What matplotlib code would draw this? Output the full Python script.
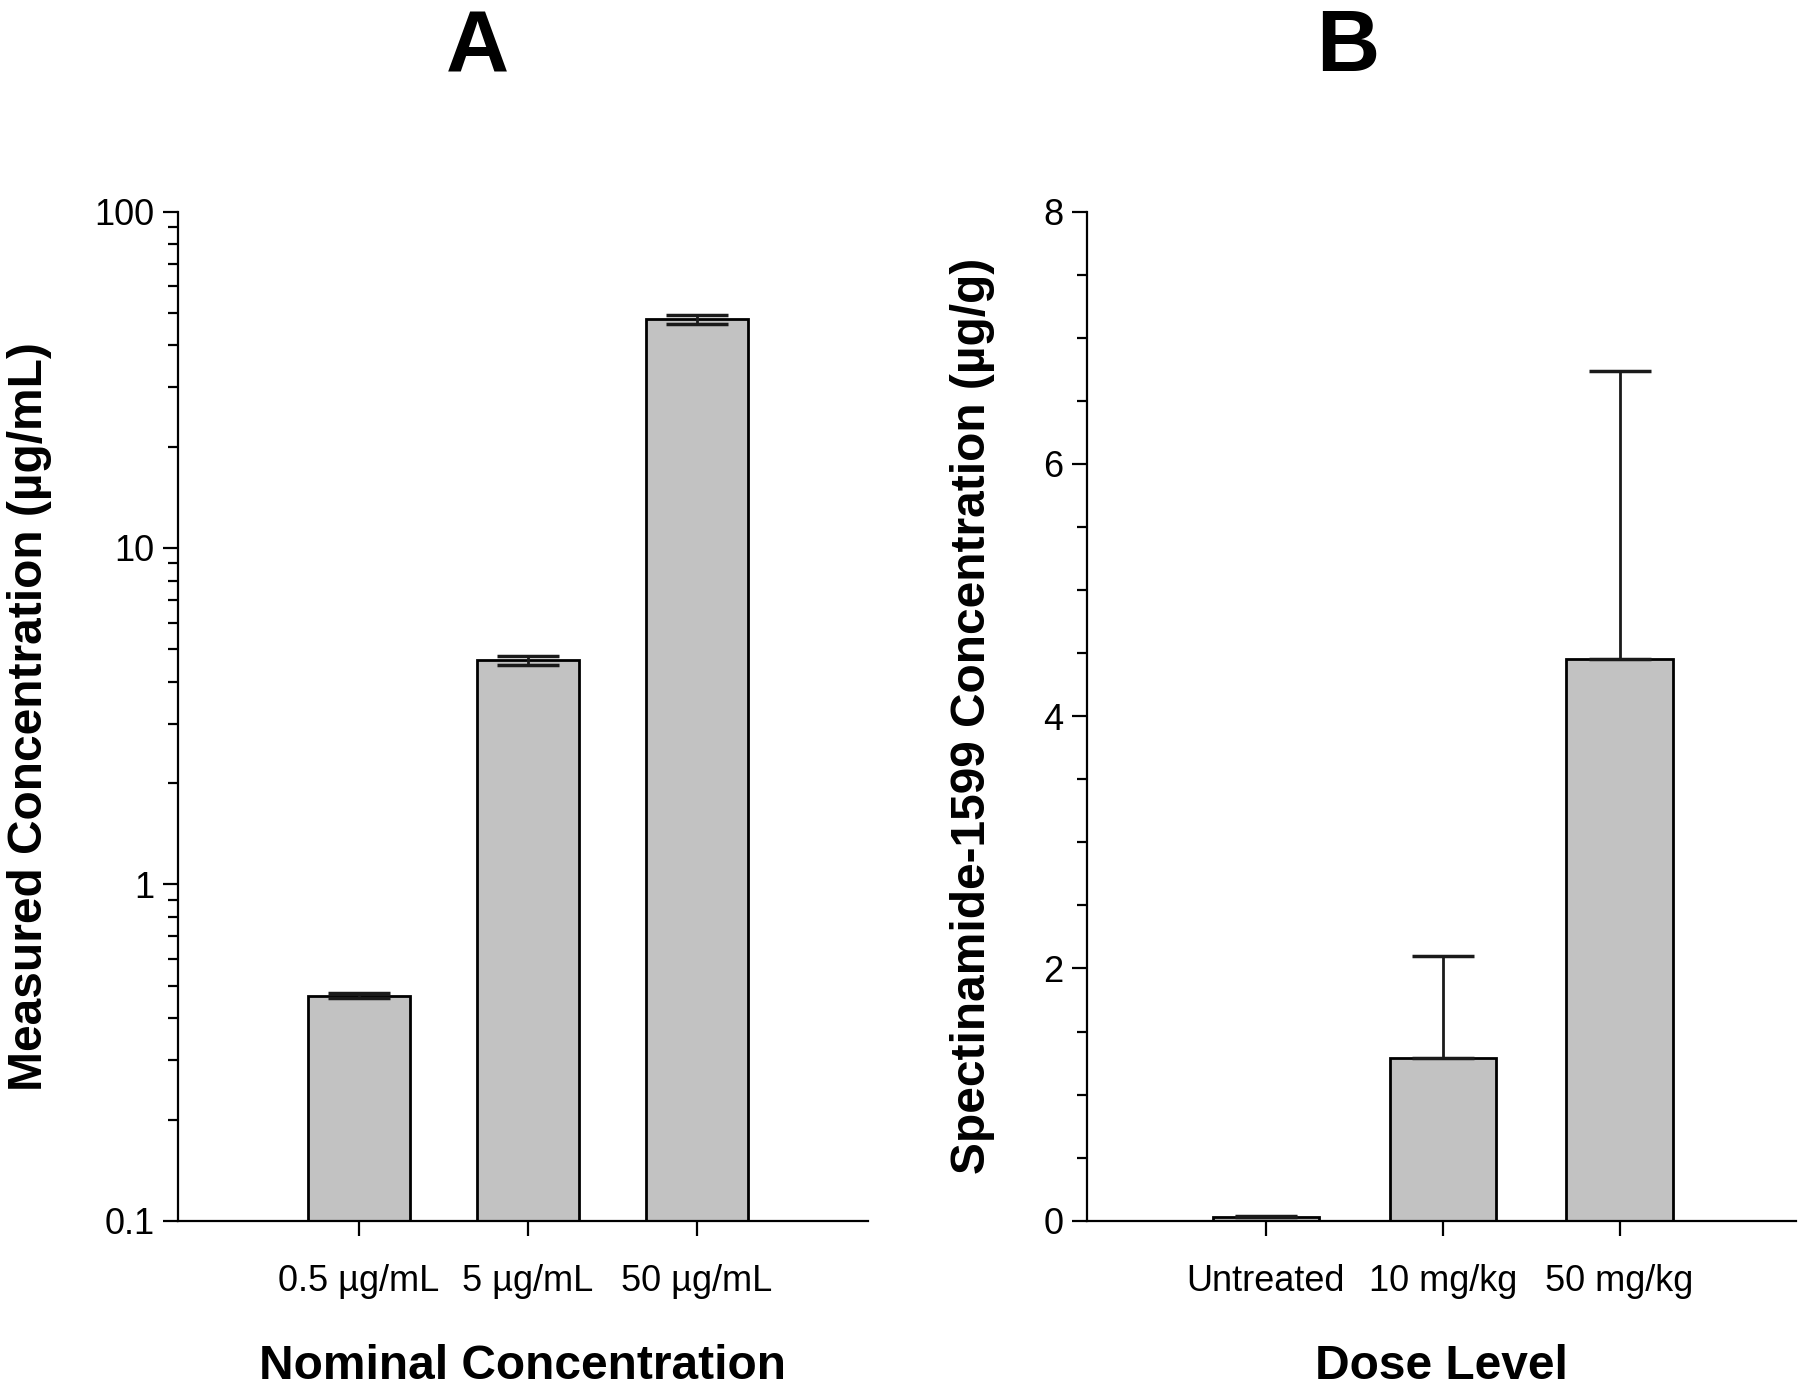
import matplotlib.pyplot as plt
import numpy as np
from matplotlib.ticker import LogLocator, MultipleLocator, NullFormatter

# Data
# ------------------------------------------------------------------------------

a_labels = ['0.5 µg/mL', '5 µg/mL', '50 µg/mL']
a_vals = [0.467, 4.63, 47.8]
a_err = [0.008, 0.15, 1.6]

b_labels = ['Untreated', '10 mg/kg', '50 mg/kg']
b_vals = [0.03, 1.29, 4.45]
b_err = [0.01, 0.81, 2.29]

# Plot
# ------------------------------------------------------------------------------

plt.rcParams['font.family'] = ['Liberation Sans', 'DejaVu Sans']

bar_c = '#c2c2c2'
ekw = dict(elinewidth=2, capthick=2.5, ecolor='#1a1a1a')

fig = plt.figure(figsize=(18, 13.92), dpi=100)
ax1 = fig.add_axes([0.099, 0.123, 0.383, 0.725])
ax2 = fig.add_axes([0.604, 0.123, 0.394, 0.725])

x = np.arange(3)

ax1.bar(x, a_vals, width=0.6, color=bar_c, edgecolor='black', linewidth=2,
        yerr=a_err, capsize=22, error_kw=ekw)
ax1.set_yscale('log')
ax1.set_ylim(0.1, 100)
ax1.set_xlim(-1.07, 3.01)
ax1.set_yticks([0.1, 1, 10, 100])
ax1.set_yticklabels(['0.1', '1', '10', '100'])
ax1.yaxis.set_minor_locator(LogLocator(base=10, subs=np.arange(2, 10)))
ax1.yaxis.set_minor_formatter(NullFormatter())
ax1.set_ylabel('Measured Concentration (µg/mL)', fontsize=34.5,
               fontweight='bold')
ax1.set_xlabel('Nominal Concentration', fontsize=34.5, fontweight='bold')
ax1.yaxis.set_label_coords(-0.216, 0.5)
ax1.xaxis.set_label_coords(0.5, -0.144)

b_low = [0 for _ in b_err]
ax2.bar(x, b_vals, width=0.6, color=bar_c, edgecolor='black', linewidth=2,
        yerr=[b_low, b_err], capsize=22, error_kw=ekw)
ax2.set_ylim(0, 8)
ax2.set_xlim(-1.01, 3.0)
ax2.yaxis.set_major_locator(MultipleLocator(2))
ax2.yaxis.set_minor_locator(MultipleLocator(0.5))
ax2.set_ylabel('Spectinamide-1599 Concentration (µg/g)', fontsize=34.5,
               fontweight='bold')
ax2.set_xlabel('Dose Level', fontsize=34.5, fontweight='bold')
ax2.yaxis.set_label_coords(-0.162, 0.5)
ax2.xaxis.set_label_coords(0.5, -0.144)

for ax, labels in [(ax1, a_labels), (ax2, b_labels)]:
    ax.set_xticks(x)
    ax.set_xticklabels(labels)
    ax.xaxis.label.set_va('center')
    ax.yaxis.label.set_va('center')
    ax.spines['top'].set_visible(False)
    ax.spines['right'].set_visible(False)
    ax.spines['left'].set_linewidth(1.6)
    ax.spines['bottom'].set_linewidth(1.6)
    ax.tick_params(axis='both', which='major', length=11, width=1.6,
                   labelsize=26, direction='out', pad=6)
    ax.tick_params(axis='y', which='minor', length=7, width=1.6,
                   direction='out')
    ax.tick_params(axis='x', which='major', pad=20)

fig.text(0.265, 0.965, 'A', fontsize=63, fontweight='bold',
         ha='center', va='center')
fig.text(0.749, 0.965, 'B', fontsize=63, fontweight='bold',
         ha='center', va='center')

fig.savefig('out.png', dpi=100)
